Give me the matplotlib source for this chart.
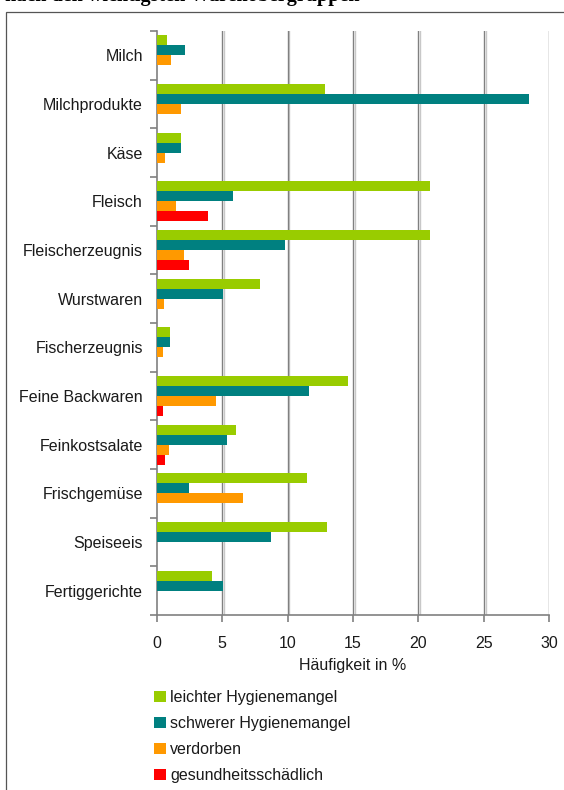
import numpy as np
import matplotlib.pyplot as plt
import matplotlib.patheffects as pe
from matplotlib.patches import Rectangle

# Warenobergruppen (top to bottom)
categories = ['Milch', 'Milchprodukte', 'Käse', 'Fleisch', 'Fleischerzeugnis',
              'Wurstwaren', 'Fischerzeugnis', 'Feine Backwaren', 'Feinkostsalate',
              'Frischgemüse', 'Speiseeis', 'Fertiggerichte']

# Häufigkeit in % per series
leicht = [0.8, 12.85, 1.85, 20.9, 20.9, 7.9, 1.0, 14.6, 6.05, 11.5, 13.0, 4.2]
schwer = [2.15, 28.45, 1.85, 5.8, 9.8, 5.05, 1.0, 11.65, 5.35, 2.45, 8.7, 5.05]
verdorben = [1.1, 1.85, 0.65, 1.5, 2.1, 0.55, 0.5, 4.55, 0.95, 6.6, 0, 0]
gesundheit = [0, 0, 0, 3.9, 2.45, 0, 0, 0.5, 0.65, 0, 0, 0]

series = [leicht, schwer, verdorben, gesundheit]
labels = ['leichter Hygienemangel', 'schwerer Hygienemangel', 'verdorben',
          'gesundheitsschädlich']
colors = ['#99cc00', '#008080', '#ff9900', '#ff0000']
xticks = [0, 5, 10, 15, 20, 25, 30]

plt.rcParams['font.family'] = ['Liberation Sans', 'DejaVu Sans']
fs = 11.5

fig = plt.figure(figsize=(5.64, 7.90), dpi=100)
ax = fig.add_axes([0.2778, 0.2215, 0.6962, 0.7393])

# cut-off title above the frame
fig.text(0.009, 0.9985, 'nach den wichtigsten Warenobergruppen', family='Liberation Serif',
         fontweight='bold', fontsize=14.5, ha='left', va='baseline')
# outer frame
fig.patches.append(Rectangle((5.5 / 564, -0.05), 1.0, 1 - 11.5 / 790 + 0.05,
                             transform=fig.transFigure, fill=False,
                             edgecolor='#555555', lw=0.9))

y = np.arange(len(categories))
h = 0.205
for i, (vals, lab, col) in enumerate(zip(series, labels, colors)):
    ax.barh(y + (i - 1.5) * h, vals, height=h, color=col, label=lab, zorder=3)

ax.set_ylim(len(categories) - 0.5, -0.5)
ax.set_xlim(0, 30)
ax.set_xticks(xticks)
ax.set_yticks(y)
ax.set_yticklabels(categories, fontsize=fs, color='#1a1a1a')
ax.set_yticks(np.arange(len(categories) + 1) - 0.5, minor=True)
ax.tick_params(axis='y', which='major', length=0, pad=10)
ax.tick_params(axis='y', which='minor', length=5, color='#808080', width=1.2)
ax.tick_params(axis='x', length=5, color='#808080', width=1.2, labelsize=fs,
               labelcolor='#1a1a1a', pad=10)

for x in xticks[1:]:
    ax.axvline(x, color='#808080', lw=1, zorder=1,
               path_effects=[pe.SimpleLineShadow(offset=(1.2, 0), shadow_color='#c8c8c8', alpha=1),
                             pe.Normal()])

for s in ['top', 'right']:
    ax.spines[s].set_visible(False)
for s in ['left', 'bottom']:
    ax.spines[s].set_color('#808080')
    ax.spines[s].set_linewidth(1.2)

ax.set_xlabel('Häufigkeit in %', fontsize=fs, color='#1a1a1a', labelpad=5)

ax.legend(loc='upper left', bbox_to_anchor=(-0.022, -0.117), frameon=False, fontsize=fs,
          handlelength=0.7, handleheight=0.7, handletextpad=0.3, labelspacing=0.7,
          borderaxespad=0, labelcolor='#1a1a1a')

fig.savefig('out.png', dpi=100)
